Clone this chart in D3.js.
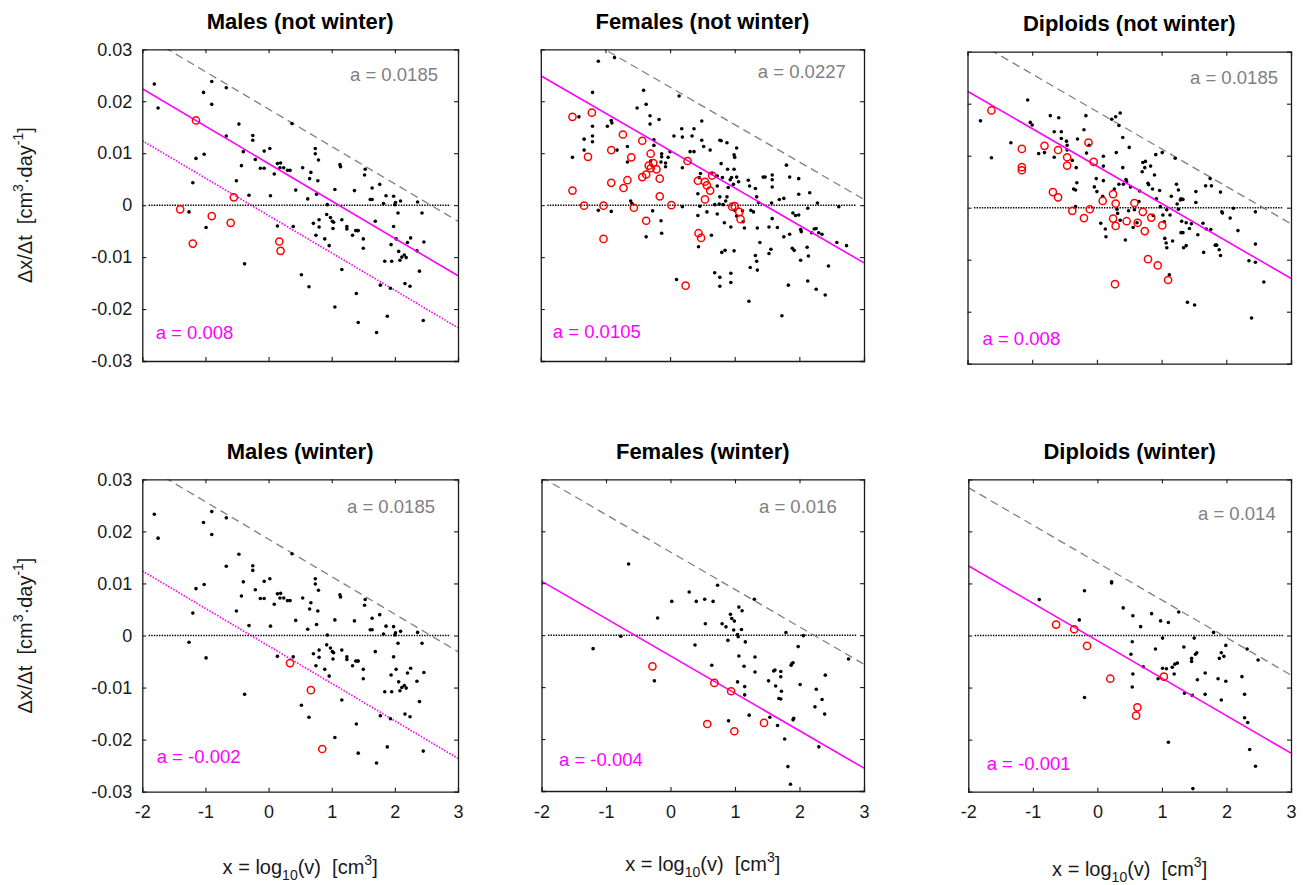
<!DOCTYPE html>
<html><head><meta charset="utf-8">
<script src="https://cdn.jsdelivr.net/npm/d3@7"></script>
<style>
body{margin:0;background:#fff}
svg{font-family:Arial,"Liberation Sans",Helvetica,sans-serif}
text{white-space:pre}
</style>
</head><body>
<svg id="c" width="1308" height="885"></svg>
<script>
// ---------------- DATA ----------------
const panelTitles = ["Males (not winter)","Females (not winter)","Diploids (not winter)",
                     "Males (winter)","Females (winter)","Diploids (winter)"];
const xTicks = [-2,-1,0,1,2,3];
const xTickLabels = ["-2","-1","0","1","2","3"];
const yTicks = [0.03,0.02,0.01,0,-0.01,-0.02,-0.03];
const yTickLabels = ["0.03","0.02","0.01","0","-0.01","-0.02","-0.03"];
const slope = -0.0072;
const grayA = [0.0185,0.0227,0.0185,0.0185,0.016,0.014];
const grayLabels = ["a = 0.0185","a = 0.0227","a = 0.0185","a = 0.0185","a = 0.016","a = 0.014"];
const solidA = [0.008,0.0105,0.008,null,-0.004,-0.001];
const dottedA = [-0.002,null,null,-0.002,null,null];
const magentaLabels = ["a = 0.008","a = 0.0105","a = 0.008","a = -0.002","a = -0.004","a = -0.001"];

// males: all measurements (same cloud in both male panels)
const malesDots = [[-1.81,0.0233],[-1.75,0.0187],[-1.03,0.0217],[-0.90,0.0238],[-0.90,0.0194],[-0.67,0.0226],
[-1.15,0.0090],[-1.02,0.0098],[-1.20,0.0043],[-1.26,-0.0013],[-0.99,-0.0043],[-0.67,0.0133],[-0.47,0.0156],
[-0.40,0.0103],[-0.43,0.0076],[-0.51,0.0047],[-0.25,0.0134],[-0.25,0.0125],[-0.21,0.0088],[-0.31,0.0019],
[-0.38,-0.0113],[-0.07,0.0104],[0.02,0.0109],[-0.13,0.0071],[-0.07,0.0071],[0.03,0.0018],[0.09,0.0060],
[0.14,0.0080],[0.19,0.0081],[0.18,0.0072],[0.24,0.0072],[0.30,0.0067],[0.34,0.0067],[0.37,0.0157],[0.43,0.0029],
[0.14,-0.0040],[0.39,-0.0041],[0.52,-0.0134],[0.54,0.0072],[0.62,0.0012],[0.64,-0.0157],[0.65,0.0051],[0.67,0.0063],
[0.71,-0.0035],[0.74,0.0109],[0.74,0.0099],[0.79,0.0087],[0.76,0.0021],[0.78,0.0047],[0.75,-0.0058],[0.80,-0.0028],
[0.80,-0.0042],[0.89,-0.0065],[0.93,0.0001],[0.92,-0.0018],[0.96,-0.0078],[0.98,-0.0024],[1.01,-0.0031],[1.02,-0.0045],
[1.03,-0.0033],[1.05,0.0030],[1.05,-0.0196],[1.13,0.0078],[1.14,0.0074],[1.16,-0.0028],[1.16,-0.0124],[1.24,-0.0041],
[1.24,-0.0046],[1.33,-0.0058],[1.36,0.0028],[1.38,-0.0049],[1.41,-0.0049],[1.42,-0.0049],[1.39,-0.0170],[1.42,-0.0226],
[1.50,-0.0065],[1.50,-0.0083],[1.53,0.0069],[1.52,0.0058],[1.61,0.0011],[1.64,0.0011],[1.64,0.0033],[1.69,-0.0031],
[1.76,0.0040],[1.71,-0.0245],[1.77,-0.0154],[1.82,0.0003],[1.84,-0.0108],[1.86,0.0018],[1.88,-0.0214],[1.94,-0.0076],
[1.95,-0.0108],[1.93,-0.0160],[1.98,0.0017],[1.98,-0.0041],[2.00,0.0001],[2.01,0.0005],[2.02,-0.0065],[2.05,-0.0015],
[2.06,-0.0089],[2.08,-0.0106],[2.09,0.0008],[2.11,-0.0100],[2.15,-0.0096],[2.18,-0.0101],[2.16,-0.0151],[2.20,-0.0072],
[2.24,-0.0156],[2.25,-0.0063],[2.35,-0.0088],[2.36,0.0006],[2.39,-0.0127],[2.43,-0.0015],[2.46,-0.0071],[2.45,-0.0222]];
const malesNotWinterRed = [[-1.15,0.0163],[-1.40,-0.0008],[-1.20,-0.0074],[-0.90,-0.0021],[-0.60,-0.0034],
[-0.55,0.0015],[0.17,-0.0070],[0.19,-0.0088]];
const malesWinterRed = [[0.34,-0.0053],[0.67,-0.0105],[0.85,-0.0218]];

const femalesNotWinterDots = [[-1.11,0.0277],[-0.86,0.0284],[-1.20,0.0217],[0.14,0.0210],[-0.41,0.0221],[-0.37,0.0194],
[-0.51,0.0187],[-1.41,0.0170],[-1.20,0.0152],[-0.97,0.0152],[-0.91,0.0163],[-0.90,0.0158],[-1.20,0.0133],[-1.33,0.0127],
[-1.20,0.0122],[-1.33,0.0106],[-1.51,0.0092],[-0.82,0.0106],[-0.66,0.0113],[-0.66,0.0083],[-0.31,0.0172],[-0.31,0.0156],
[-0.17,0.0165],[-0.25,0.0126],[-0.25,0.0115],[-0.13,0.0099],[-0.13,0.0093],[-0.07,0.0081],[-0.07,0.0074],[-0.14,0.0083],
[-0.30,0.0085],[0.00,0.0103],[-0.03,0.0092],[0.06,0.0133],[0.19,0.0131],[0.18,0.0147],[0.37,0.0147],[0.31,0.0103],
[0.37,0.0103],[0.34,0.0133],[0.49,0.0162],[0.49,0.0125],[0.52,0.0113],[0.62,0.0106],[0.77,0.0125],[0.79,0.0124],
[0.88,0.0120],[1.03,0.0110],[0.99,0.0097],[1.00,0.0092],[0.99,0.0069],[0.89,0.0069],[0.79,0.0080],[0.64,0.0061],
[0.73,0.0056],[0.81,0.0053],[0.93,0.0049],[0.95,0.0053],[1.03,0.0054],[1.06,0.0045],[0.98,0.0040],[0.90,0.0034],
[0.88,0.0016],[0.86,0.0008],[0.77,0.0016],[0.73,0.0037],[0.69,0.0001],[0.76,0.0002],[0.82,0.0001],[0.47,0.0061],
[0.45,0.0053],[0.43,0.0022],[0.46,-0.0002],[0.43,-0.0020],[0.44,-0.0080],[0.57,-0.0013],[0.64,-0.0058],[0.73,-0.0017],
[0.84,-0.0034],[0.80,-0.0091],[0.85,-0.0087],[0.94,-0.0042],[0.99,-0.0088],[1.03,-0.0021],[1.00,-0.0010],[1.12,-0.0011],
[1.13,-0.0032],[1.15,-0.0044],[1.21,0.0048],[1.23,0.0037],[1.25,-0.0010],[1.29,-0.0013],[1.32,0.0032],[1.34,0.0016],
[1.37,0.0005],[1.35,-0.0044],[1.39,-0.0072],[1.32,-0.0097],[1.34,-0.0108],[1.24,-0.0120],[1.35,-0.0125],[1.22,-0.0185],
[1.44,0.0054],[1.47,0.0054],[1.58,0.0058],[1.58,0.0049],[1.58,0.0035],[1.57,0.0004],[1.58,-0.0026],[1.53,-0.0042],
[1.53,-0.0093],[1.56,-0.0085],[1.66,-0.0043],[1.69,0.0011],[1.76,0.0013],[1.76,-0.0061],[1.80,0.0077],[1.85,0.0054],
[1.85,-0.0056],[1.89,-0.0083],[1.92,-0.0087],[1.83,-0.0154],[1.73,-0.0213],[1.99,0.0051],[1.99,0.0021],[1.99,-0.0019],
[1.90,-0.0015],[1.94,-0.0020],[2.02,-0.0047],[2.03,-0.0051],[2.02,-0.0106],[2.13,-0.0006],[2.16,0.0024],[2.12,-0.0081],
[2.14,-0.0098],[2.13,-0.0146],[2.19,-0.0053],[2.23,-0.0046],[2.26,-0.0045],[2.30,-0.0053],[2.35,-0.0056],[2.28,0.0004],
[2.26,-0.0162],[2.40,-0.0173],[2.45,-0.0117],[2.58,-0.0072],[2.61,-0.0003],[2.73,-0.0078],[-1.11,-0.0010],[-0.91,-0.0012],
[-0.61,0.0008],[-0.59,0.0003],[-0.27,-0.0011],[-0.14,-0.0030],[-0.13,-0.0054],[-0.37,-0.0061],[0.19,-0.0003],[0.19,0.0072],
[0.10,-0.0143],[0.69,-0.0130],[0.77,-0.0139],[0.77,-0.0156],[0.94,-0.0131],[0.94,-0.0149]];
const femalesNotWinterRed = [[-1.51,0.0170],[-1.21,0.0178],[-1.51,0.0028],[-1.33,-0.0001],[-1.27,0.0093],[-1.03,-0.0001],
[-1.03,-0.0065],[-0.91,0.0106],[-0.91,0.0043],[-0.73,0.0136],[-0.72,0.0033],[-0.66,0.0048],[-0.60,0.0092],[-0.56,-0.0005],
[-0.43,0.0124],[-0.43,0.0054],[-0.37,0.0059],[-0.37,-0.0030],[-0.33,0.0076],[-0.30,0.0099],[-0.30,0.0071],[-0.26,0.0081],
[-0.21,0.0069],[-0.16,0.0051],[-0.16,0.0017],[0.02,0.0000],[0.27,0.0085],[0.24,-0.0155],[0.43,0.0047],[0.54,0.0045],
[0.57,0.0038],[0.62,0.0028],[0.54,0.0011],[0.65,0.0057],[0.44,-0.0054],[0.48,-0.0063],[0.96,-0.0003],[1.00,-0.0002],
[1.07,-0.0013],[1.09,-0.0027]];

const diploidsNotWinterDots = [[-1.80,0.0167],[-1.63,0.0096],[-1.07,0.0207],[-1.03,0.0164],[-1.00,0.0159],[-1.33,0.0125],
[-0.90,0.0104],[-0.81,0.0106],[-0.72,0.0177],[-0.66,0.0146],[-0.59,0.0173],[-0.55,0.0146],[-0.55,0.0133],[-0.47,0.0128],
[-0.46,0.0120],[-0.46,0.0111],[-0.66,0.0097],[-0.38,0.0091],[-0.32,0.0077],[-0.30,0.0132],[-0.20,0.0150],[-0.17,0.0177],
[-0.16,0.0105],[-0.12,0.0120],[-0.31,0.0048],[-0.36,0.0036],[-0.33,0.0034],[-0.33,0.0002],[0.10,0.0099],[0.10,0.0080],
[-0.01,0.0056],[-0.04,0.0040],[0.00,0.0031],[0.10,0.0052],[0.09,0.0022],[0.06,-0.0030],[0.13,-0.0041],[0.14,-0.0056],
[0.23,0.0170],[0.29,0.0175],[0.36,0.0182],[0.34,0.0158],[0.30,0.0106],[0.40,0.0135],[0.50,0.0116],[0.40,0.0077],
[0.34,0.0045],[0.27,0.0036],[0.41,0.0045],[0.45,0.0054],[0.46,0.0050],[0.52,0.0040],[0.31,-0.0003],[0.32,-0.0011],
[0.36,-0.0024],[0.49,-0.0006],[0.56,-0.0038],[0.58,-0.0004],[0.44,-0.0062],[0.62,-0.0029],[0.66,0.0032],[0.65,0.0012],
[0.70,0.0069],[0.71,0.0087],[0.75,0.0089],[0.74,0.0077],[0.79,0.0047],[0.80,0.0044],[0.83,0.0080],[0.86,0.0036],
[0.89,0.0063],[0.87,-0.0015],[0.91,0.0102],[0.92,0.0017],[0.97,0.0033],[0.98,0.0002],[1.01,0.0106],[1.02,-0.0014],
[1.04,-0.0027],[1.05,-0.0059],[1.07,-0.0068],[1.08,-0.0077],[1.12,-0.0129],[1.08,-0.0004],[1.13,-0.0014],[1.15,0.0022],
[1.17,-0.0064],[1.21,0.0095],[1.23,0.0045],[1.26,0.0034],[1.24,0.0007],[1.26,-0.0003],[1.29,0.0015],[1.30,0.0017],
[1.33,0.0016],[1.30,-0.0048],[1.33,-0.0048],[1.34,-0.0077],[1.38,-0.0073],[1.38,-0.0029],[1.31,-0.0026],[1.40,-0.0182],
[1.51,-0.0187],[1.43,-0.0040],[1.46,-0.0031],[1.53,0.0031],[1.53,0.0010],[1.56,-0.0052],[1.64,-0.0030],[1.65,-0.0086],
[1.68,0.0042],[1.69,-0.0041],[1.76,-0.0042],[1.77,0.0042],[1.75,0.0056],[1.83,-0.0072],[1.85,-0.0072],[1.89,-0.0081],
[1.91,-0.0092],[1.91,0.0030],[1.93,-0.0008],[1.94,-0.0010],[2.06,-0.0020],[2.11,-0.0001],[2.18,-0.0044],[2.35,-0.0102],
[2.39,-0.0212],[2.45,-0.0008],[2.45,-0.0070],[2.45,-0.0105],[2.58,-0.0143]];
const diploidsNotWinterRed = [[-1.63,0.0187],[-1.16,0.0113],[-1.16,0.0078],[-1.16,0.0072],[-0.81,0.0119],[-0.60,0.0111],
[-0.46,0.0097],[-0.46,0.0081],[-0.68,0.0030],[-0.60,0.0020],[-0.38,-0.0006],[-0.20,-0.0020],[-0.13,0.0125],[-0.05,0.0088],
[-0.11,-0.0003],[0.09,0.0013],[0.25,0.0026],[0.29,0.0008],[0.25,-0.0021],[0.29,-0.0035],[0.28,-0.0147],[0.46,-0.0026],
[0.58,0.0009],[0.63,-0.0029],[0.71,-0.0008],[0.74,-0.0045],[0.84,-0.0019],[0.79,-0.0099],[0.94,-0.0111],[1.01,-0.0034],
[1.10,-0.0139]];

const femalesWinterDots = [[-0.65,0.0137],[-1.20,-0.0026],[-0.77,-0.0002],[-0.20,0.0033],[-0.25,-0.0088],[0.02,0.0065],
[0.29,0.0083],[0.40,0.0065],[0.53,0.0069],[0.66,0.0065],[0.73,0.0096],[0.54,0.0022],[0.38,-0.0019],[0.64,-0.0058],
[0.80,0.0022],[0.86,0.0016],[0.89,-0.0010],[0.93,0.0040],[0.95,0.0032],[0.99,0.0027],[0.98,0.0010],[1.04,0.0001],
[1.05,-0.0003],[1.06,0.0054],[1.11,0.0047],[1.10,0.0011],[1.16,-0.0013],[1.06,-0.0040],[1.14,-0.0060],[1.04,-0.0090],
[1.15,-0.0099],[1.15,-0.0115],[1.30,0.0069],[1.31,-0.0042],[1.31,-0.0071],[1.22,-0.0154],[0.90,-0.0165],[1.52,-0.0088],
[1.54,-0.0158],[1.60,-0.0069],[1.62,-0.0067],[1.63,-0.0098],[1.66,-0.0174],[1.68,-0.0122],[1.71,-0.0070],[1.71,-0.0080],
[1.72,-0.0108],[1.71,-0.0123],[1.77,-0.0200],[1.79,0.0005],[1.82,-0.0253],[1.86,-0.0287],[1.87,-0.0058],[1.90,-0.0053],
[1.88,-0.0055],[1.90,-0.0163],[1.91,-0.0160],[1.98,-0.0022],[2.01,-0.0095],[2.06,-0.0001],[2.24,-0.0138],[2.26,-0.0104],
[2.30,-0.0215],[2.35,-0.0124],[2.39,-0.0152],[2.40,-0.0077],[2.76,-0.0046]];
const femalesWinterRed = [[-0.28,-0.0060],[0.68,-0.0092],[0.94,-0.0108],[0.57,-0.0171],[0.99,-0.0185],[1.45,-0.0169]];

const diploidsWinterDots = [[-0.90,0.0069],[-0.20,0.0086],[-0.28,0.0030],[-0.20,-0.0119],[0.22,0.0103],[0.22,0.0101],
[0.40,0.0053],[0.55,0.0038],[0.67,0.0017],[0.54,-0.0012],[0.52,-0.0036],[0.55,-0.0074],[0.54,-0.0099],[0.71,-0.0060],
[0.84,0.0042],[0.90,-0.0026],[0.98,0.0028],[1.01,-0.0005],[0.94,-0.0083],[1.01,-0.0063],[1.07,-0.0064],[1.10,0.0025],
[1.10,-0.0205],[1.16,-0.0061],[1.19,-0.0074],[1.20,-0.0055],[1.24,-0.0053],[1.26,0.0045],[1.34,-0.0022],[1.35,-0.0111],
[1.46,-0.0044],[1.46,-0.0050],[1.48,-0.0294],[1.47,-0.0115],[1.50,-0.0005],[1.52,-0.0036],[1.54,-0.0033],[1.55,-0.0085],
[1.67,-0.0072],[1.67,-0.0113],[1.80,0.0006],[1.87,-0.0083],[1.89,-0.0044],[1.92,-0.0033],[1.96,-0.0040],[1.92,-0.0124],
[1.99,-0.0019],[1.99,-0.0088],[2.24,-0.0079],[2.28,-0.0113],[2.28,-0.0158],[2.32,-0.0026],[2.33,-0.0167],[2.36,-0.0219],
[2.45,-0.0251],[2.49,-0.0047]];
const diploidsWinterRed = [[-0.64,0.0021],[-0.36,0.0012],[-0.16,-0.0020],[0.20,-0.0083],[0.62,-0.0138],[0.60,-0.0154],
[1.03,-0.0079]];

const panelDots = [malesDots,femalesNotWinterDots,diploidsNotWinterDots,malesDots,femalesWinterDots,diploidsWinterDots];
const panelRed = [malesNotWinterRed,femalesNotWinterRed,diploidsNotWinterRed,malesWinterRed,femalesWinterRed,diploidsWinterRed];

// ---------------- LAYOUT ----------------
const frames = [
  {x0:142.3,x1:458,y0:49.3,y1:361},
  {x0:540.8,x1:864,y0:49.3,y1:361},
  {x0:967.5,x1:1291,y0:51.7,y1:363.7},
  {x0:142.3,x1:458,y0:479.3,y1:791.7},
  {x0:541.5,x1:864,y0:479.3,y1:791},
  {x0:968.3,x1:1291,y0:479.3,y1:791.7}
];
const grayPos = [[207.7,32],[217,29],[222.5,32],[204.7,34],[217.5,34],[229.7,41]];
const magPos = [[13.4,22],[12,23],[15,19],[14.4,29],[17.5,25],[18.4,22]];

const svg = d3.select("#c");
const dark = "#1a1a1a";

frames.forEach((f,i)=>{
  const col = i%3, row = Math.floor(i/3);
  const x = d3.scaleLinear().domain([-2,3]).range([f.x0,f.x1]);
  const y = d3.scaleLinear().domain([-0.03,0.03]).range([f.y1,f.y0]);
  const g = svg.append("g");
  const cid = "clip"+i;
  g.append("clipPath").attr("id",cid).append("rect")
    .attr("x",f.x0).attr("y",f.y0).attr("width",f.x1-f.x0).attr("height",f.y1-f.y0);
  const plot = g.append("g").attr("clip-path",`url(#${cid})`);

  // zero line
  plot.append("line").attr("x1",x(-1.9)).attr("x2",x(2.88)).attr("y1",y(0)).attr("y2",y(0))
    .attr("stroke","#000").attr("stroke-width",1.5).attr("stroke-dasharray","1.4,1.2");

  const line = d3.line().x(d=>x(d[0])).y(d=>y(d[1]));
  const seg = a => [[-2,a-2*slope],[3,a+3*slope]];

  // gray dashed reference
  plot.append("path").attr("d",line(seg(grayA[i]))).attr("fill","none")
    .attr("stroke","#808080").attr("stroke-width",1.3).attr("stroke-dasharray","8,5");
  if(dottedA[i]!==null)
    plot.append("path").attr("d",line(seg(dottedA[i]))).attr("fill","none")
      .attr("stroke","#ff00ff").attr("stroke-width",1.7).attr("stroke-dasharray","1.5,1.5");

  // black dots
  plot.selectAll("circle.dot").data(panelDots[i]).join("circle").attr("class","dot")
    .attr("cx",d=>x(d[0])).attr("cy",d=>y(d[1])).attr("r",1.8).attr("fill","#000");

  if(solidA[i]!==null)
    plot.append("path").attr("d",line(seg(solidA[i]))).attr("fill","none")
      .attr("stroke","#ff00ff").attr("stroke-width",1.6);

  // red open circles
  plot.selectAll("circle.red").data(panelRed[i]).join("circle").attr("class","red")
    .attr("cx",d=>x(d[0])).attr("cy",d=>y(d[1])).attr("r",3.6)
    .attr("fill","none").attr("stroke","#ff0000").attr("stroke-width",1.5);

  // axes (ticks inside, box)
  const tl = 4;
  const ax = [
    d3.axisBottom(x).tickValues(xTicks).tickSize(-tl).tickPadding(14).tickFormat((d,k)=>xTickLabels[k]),
    d3.axisTop(x).tickValues(xTicks).tickSize(-tl),
    d3.axisLeft(y).tickValues(yTicks).tickSize(-tl).tickPadding(10).tickFormat((d,k)=>yTickLabels[k]),
    d3.axisRight(y).tickValues(yTicks).tickSize(-tl)
  ];
  const gb = g.append("g").attr("transform",`translate(0,${f.y1})`).call(ax[0]);
  const gt = g.append("g").attr("transform",`translate(0,${f.y0})`).call(ax[1]);
  const gl = g.append("g").attr("transform",`translate(${f.x0},0)`).call(ax[2]);
  const gr = g.append("g").attr("transform",`translate(${f.x1},0)`).call(ax[3]);
  [gb,gt,gl,gr].forEach(a=>{
    a.select(".domain").attr("stroke",dark).attr("stroke-width",1.3);
    a.selectAll(".tick line").attr("stroke",dark).attr("stroke-width",1.1);
    a.selectAll(".tick text").attr("fill","#1a1a1a").attr("font-size",18).attr("font-family","Arial, 'Liberation Sans', sans-serif");
  });
  gt.selectAll(".tick text").remove();
  gr.selectAll(".tick text").remove();
  if(row===0) gb.selectAll(".tick text").remove();
  if(col!==0) gl.selectAll(".tick text").remove();
  gb.selectAll(".tick").filter(d=>d===-2||d===3).select("line").remove();
  gt.selectAll(".tick").filter(d=>d===-2||d===3).select("line").remove();
  gl.selectAll(".tick").filter(d=>d===0.03||d===-0.03).select("line").remove();
  gr.selectAll(".tick").filter(d=>d===0.03||d===-0.03).select("line").remove();

  // title
  g.append("text").attr("x",(f.x0+f.x1)/2).attr("y",f.y0-20.5).attr("text-anchor","middle")
    .attr("font-weight","bold").attr("font-size",22).attr("fill","#000").text(panelTitles[i]);

  // annotations
  g.append("text").attr("x",f.x0+grayPos[i][0]).attr("y",f.y0+grayPos[i][1])
    .attr("font-size",18.5).attr("fill","#808080").text(grayLabels[i]);
  g.append("text").attr("x",f.x0+magPos[i][0]).attr("y",f.y1-magPos[i][1])
    .attr("font-size",18.5).attr("fill","#ff00ff").text(magentaLabels[i]);

  // x label
  if(row===1){
    const yl = [874,871,876][col];
    const t = g.append("text").attr("x",(f.x0+f.x1)/2).attr("y",yl).attr("text-anchor","middle")
      .attr("font-size",20).attr("fill","#1a1a1a");
    t.append("tspan").text("x = log");
    t.append("tspan").attr("font-size",14).attr("dy",6).text("10");
    t.append("tspan").attr("dy",-6).text("(v)  [cm");
    t.append("tspan").attr("font-size",14).attr("dy",-9).text("3");
    t.append("tspan").attr("dy",9).text("]");
  }
  // y label
  if(col===0){
    const cy = (f.y0+f.y1)/2;
    const t = g.append("text").attr("transform",`translate(32,${cy}) rotate(-90)`)
      .attr("text-anchor","middle").attr("font-size",20).attr("fill","#1a1a1a");
    t.append("tspan").text("\u0394x/\u0394t  [cm");
    t.append("tspan").attr("font-size",14).attr("dy",-9).text("3");
    t.append("tspan").attr("dy",9).text("\u00b7day");
    t.append("tspan").attr("font-size",14).attr("dy",-9).text("-1");
    t.append("tspan").attr("dy",9).text("]");
  }
});
</script>
</body></html>
